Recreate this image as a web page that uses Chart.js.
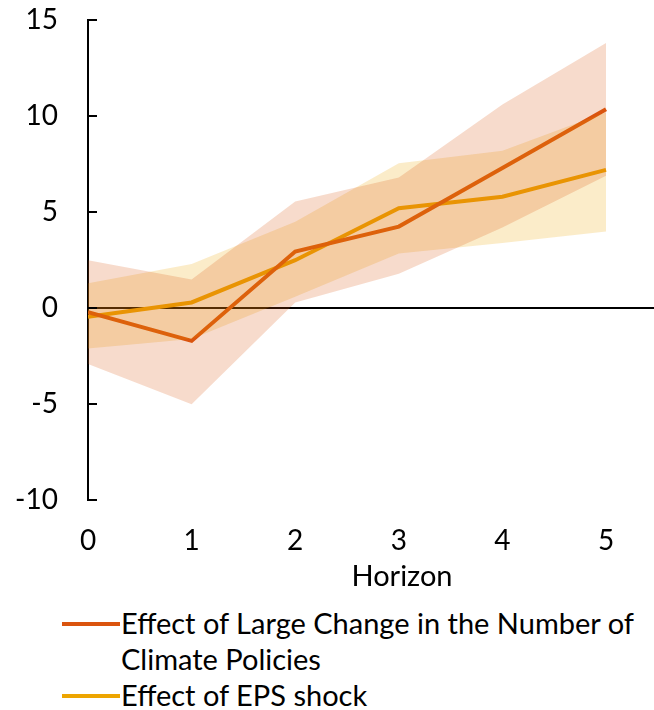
<!DOCTYPE html>
<html>
<head>
<meta charset="utf-8">
<script src="https://cdn.jsdelivr.net/npm/chart.js@4.4.1/dist/chart.umd.min.js"></script>
<style>
  body { margin: 0; background: #fff; font-family: Lato, "Open Sans", sans-serif; }
  #wrap { position: relative; width: 654px; height: 710px; }
  #legend { position: absolute; left: 62px; top: 605px; font-size: 29px; color: #000; }
  .item { display: flex; align-items: flex-start; line-height: 36px; }
  .swatch { width: 58px; height: 4px; margin-top: 17px; margin-right: 1px; flex: none; }
</style>
</head>
<body>
<div id="wrap">
  <canvas id="myChart" width="654" height="600"></canvas>
  <div id="legend">
    <div class="item"><span class="swatch" style="background:#DA540E"></span><span>Effect of Large Change in the Number of<br>Climate Policies</span></div>
    <div class="item"><span class="swatch" style="background:#EDA500"></span><span>Effect of EPS shock</span></div>
  </div>
</div>
<script>
// horizons on the x axis
var horizon = [0, 1, 2, 3, 4, 5];

// Effect of Large Change in the Number of Climate Policies
var largeChange = [-0.2, -1.7, 2.95, 4.25, 7.3, 10.35];
var largeUpper  = [2.5, 1.5, 5.55, 6.8, 10.6, 13.8];
var largeLower  = [-2.9, -5.0, 0.3, 1.8, 4.2, 6.9];

// Effect of EPS shock
var epsShock = [-0.45, 0.3, 2.5, 5.2, 5.8, 7.2];
var epsUpper = [1.3, 2.3, 4.5, 7.55, 8.2, 10.2];
var epsLower = [-2.1, -1.6, 0.6, 2.85, 3.4, 4.0];

var yTicks = [-10, -5, 0, 5, 10, 15];

var orange = '#DA540E';
var yellow = '#EDA500';

function pts(vals) {
    return vals.map(function(v, i) { return { x: horizon[i], y: v }; });
}

var fontFamily = 'Lato, "Open Sans", sans-serif';

// small inward tick marks on the y axis + the x axis title
var extras = {
    id: 'extras',
    afterDraw: function(chart) {
        var ctx = chart.ctx;
        var y = chart.scales.y;
        var left = chart.chartArea.left;
        ctx.save();
        ctx.strokeStyle = '#000';
        ctx.lineWidth = 2;
        yTicks.forEach(function(t) {
            var py = Math.round(y.getPixelForValue(t));
            ctx.beginPath();
            ctx.moveTo(left, py);
            ctx.lineTo(left + 9, py);
            ctx.stroke();
        });
        ctx.fillStyle = '#000';
        ctx.font = '29px ' + fontFamily;
        ctx.textAlign = 'center';
        ctx.textBaseline = 'middle';
        ctx.fillText('Horizon', 402, 577);
        ctx.restore();
    }
};

var graphData = {
    type: 'line',
    data: {
        datasets: [
            {
                label: 'large upper',
                data: pts(largeUpper),
                borderWidth: 0,
                pointRadius: 0,
                backgroundColor: 'rgba(218, 84, 14, 0.21)',
                fill: '+1'
            },
            {
                label: 'large lower',
                data: pts(largeLower),
                borderWidth: 0,
                pointRadius: 0,
                fill: false
            },
            {
                label: 'eps upper',
                data: pts(epsUpper),
                borderWidth: 0,
                pointRadius: 0,
                backgroundColor: 'rgba(237, 165, 0, 0.21)',
                fill: '+1'
            },
            {
                label: 'eps lower',
                data: pts(epsLower),
                borderWidth: 0,
                pointRadius: 0,
                fill: false
            },
            {
                label: 'Effect of Large Change in the Number of Climate Policies',
                data: pts(largeChange),
                borderColor: orange,
                borderWidth: 4,
                pointRadius: 0,
                fill: false
            },
            {
                label: 'Effect of EPS shock',
                data: pts(epsShock),
                borderColor: yellow,
                borderWidth: 4,
                pointRadius: 0,
                fill: false
            }
        ]
    },
    options: {
        responsive: false,
        animation: false,
        layout: { padding: { top: 0, right: 0, bottom: 18, left: 0 } },
        plugins: {
            legend: { display: false },
            tooltip: { enabled: false }
        },
        scales: {
            x: {
                type: 'linear',
                min: 0,
                max: 5.463,
                afterBuildTicks: function(scale) {
                    scale.ticks = horizon.map(function(h) { return { value: h }; });
                },
                grid: { display: false, drawTicks: false },
                border: { display: false },
                ticks: {
                    padding: 24,
                    color: '#000',
                    font: { family: fontFamily, size: 28 },
                    maxRotation: 0
                }
            },
            y: {
                min: -10,
                max: 15,
                afterBuildTicks: function(scale) {
                    scale.ticks = yTicks.map(function(t) { return { value: t }; });
                },
                afterFit: function(scale) {
                    scale.width = 88;
                    scale.paddingTop = 20;
                },
                grid: {
                    drawTicks: false,
                    color: function(c) { return c.tick && c.tick.value === 0 ? '#000' : 'rgba(0,0,0,0)'; },
                    lineWidth: 2
                },
                border: { display: true, color: '#000', width: 2 },
                ticks: {
                    padding: 30,
                    color: '#000',
                    font: { family: fontFamily, size: 28 }
                }
            }
        }
    },
    plugins: [extras]
};

var ctx = document.getElementById('myChart').getContext('2d');
var myChart = new Chart(ctx, graphData);
</script>
</body>
</html>
